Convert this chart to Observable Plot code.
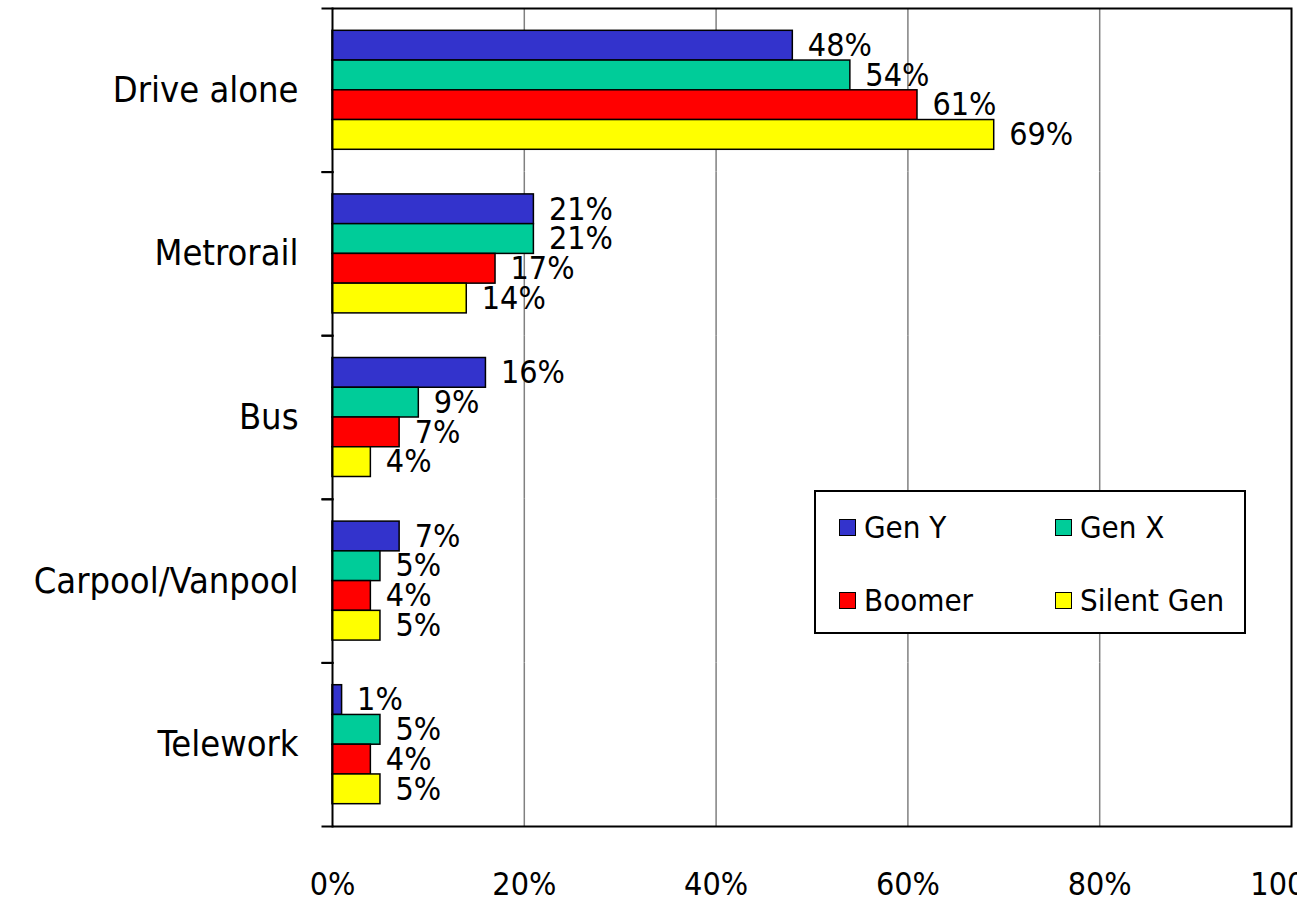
<!DOCTYPE html>
<html>
<head>
<meta charset="utf-8">
<script src="https://cdn.jsdelivr.net/npm/d3@7"></script>
<script src="https://cdn.jsdelivr.net/npm/@observablehq/plot@0.6"></script>
<style>
  body { margin: 0; background: #fff; }
  #wrap { position: relative; width: 1297px; height: 909px; font-family: "DejaVu Sans Condensed", "DejaVu Sans", sans-serif; overflow: hidden; }
  #legend { position: absolute; left: 814px; top: 490px; width: 432px; height: 144px; box-sizing: border-box; border: 2px solid #000; background: #fff; }
  .item { position: absolute; display: flex; align-items: center; font-size: 31px; color: #000; white-space: nowrap; height: 34px; }
  .sw { width: 17px; height: 17px; box-sizing: border-box; border: 1.5px solid #000; margin-right: 8px; }
</style>
</head>
<body>
<div id="wrap"></div>
<script>
const categories = ["Drive alone", "Metrorail", "Bus", "Carpool/Vanpool", "Telework"];
const series = ["Gen Y", "Gen X", "Boomer", "Silent Gen"];
const colors = ["#3333CC", "#00CC99", "#FF0000", "#FFFF00"];
const genY = [48, 21, 16, 7, 1];
const genX = [54, 21, 9, 5, 5];
const boomer = [61, 17, 7, 4, 4];
const silentGen = [69, 14, 4, 5, 5];
const xTicks = [0, 20, 40, 60, 80, 100];
const gridTicks = [20, 40, 60, 80];

const seriesValues = [genY, genX, boomer, silentGen];
const table = [];
categories.forEach((cat, i) => {
  series.forEach((gen, j) => {
    table.push({cat, gen, value: seriesValues[j][i]});
  });
});

const W = 1297, H = 909, ML = 332, MR = 6, MT = 8, MB = 83;

const chart = Plot.plot({
  width: W, height: H,
  marginLeft: ML, marginRight: MR, marginTop: MT, marginBottom: MB,
  style: {fontFamily: '"DejaVu Sans Condensed", "DejaVu Sans", sans-serif', background: "white", color: "black", overflow: "visible"},
  x: {domain: [0, 100]},
  y: {domain: series, paddingInner: 0, paddingOuter: 0.75, round: false, axis: null},
  fy: {domain: categories, padding: 0, round: false},
  color: {domain: series, range: colors},
  marks: [
    Plot.gridX({ticks: gridTicks, stroke: "#808080", strokeOpacity: 1, strokeWidth: 1.5}),
    Plot.barX(table, {x: "value", y: "gen", fy: "cat", fill: "gen", stroke: "black", strokeWidth: 1.5}),
    Plot.text(table, {x: "value", y: "gen", fy: "cat", text: d => d.value + "%", textAnchor: "start", dx: 15, fontSize: 32, fill: "black"}),
    Plot.frame({facet: "super", stroke: "black", strokeWidth: 2}),
    Plot.frame({anchor: "top", insetLeft: -10, insetRight: W - ML - MR, stroke: "black", strokeWidth: 2}),
    Plot.frame({anchor: "bottom", insetLeft: -10, insetRight: W - ML - MR, stroke: "black", strokeWidth: 2}),
    Plot.axisFy({anchor: "left", tickSize: 0, tickPadding: 34, fontSize: 36, label: null}),
    Plot.axisX({ticks: xTicks, tickFormat: d => d + "%", tickSize: 0, tickPadding: 46, fontSize: 32, label: null})
  ]
});

const wrap = document.getElementById("wrap");
wrap.appendChild(chart);

const legend = document.createElement("div");
legend.id = "legend";
const pos = [[23, 18], [239, 18], [23, 91], [239, 91]];
series.forEach((s, i) => {
  const it = document.createElement("div");
  it.className = "item";
  it.style.left = pos[i][0] + "px";
  it.style.top = pos[i][1] + "px";
  const sw = document.createElement("span");
  sw.className = "sw";
  sw.style.background = colors[i];
  const tx = document.createElement("span");
  tx.textContent = s;
  it.appendChild(sw);
  it.appendChild(tx);
  legend.appendChild(it);
});
wrap.appendChild(legend);
</script>
</body>
</html>
